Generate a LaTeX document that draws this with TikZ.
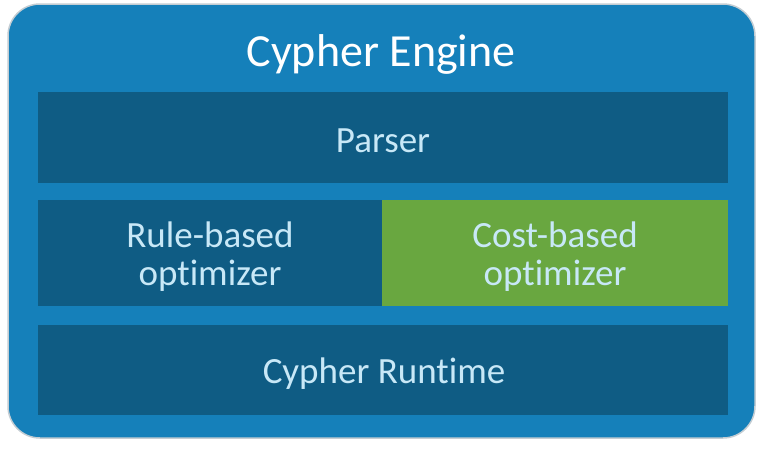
\documentclass[tikz,border=0pt]{standalone}
\usepackage{fontspec}
\setmainfont[Ligatures=NoCommon]{Carlito}
\definecolor{outerblue}{HTML}{1580BA}
\definecolor{innerblue}{HTML}{0F5C84}
\definecolor{costgreen}{HTML}{69A740}
\definecolor{boxtext}{HTML}{C8E8F7}
\definecolor{rimgray}{HTML}{C4CDD3}
\tikzset{
  panel/.style={fill=innerblue, draw=none, inner sep=0pt},
  paneltext/.style={text=boxtext, font=\fontsize{37}{38}\selectfont, align=center},
}
\begin{document}
\begin{tikzpicture}[x=1pt,y=-1pt]
\useasboundingbox (0,0) rectangle (763,450);
\fill[white] (0,0) rectangle (763,450);
% outer engine frame
\draw[rimgray, line width=1.5pt, fill=outerblue, rounded corners=32pt] (8,4) rectangle (755,438);
\node[text=white, font=\fontsize{46}{48}\selectfont] (title) at (381,54) {Cypher Engine};
% panels
\fill[panel] (38,92) rectangle (728,183);
\node[paneltext] (parser) at (383,141) {Parser};
\fill[panel] (38,200) rectangle (382,306);
\node[paneltext] (rule) at (210,257) {Rule-based\\optimizer};
\fill[costgreen] (382,200) rectangle (728,306);
\node[paneltext] (cost) at (555,257) {Cost-based\\optimizer};
\fill[panel] (38,325) rectangle (728,415);
\node[paneltext] (runtime) at (384,374) {Cypher Runtime};
\end{tikzpicture}
\end{document}
